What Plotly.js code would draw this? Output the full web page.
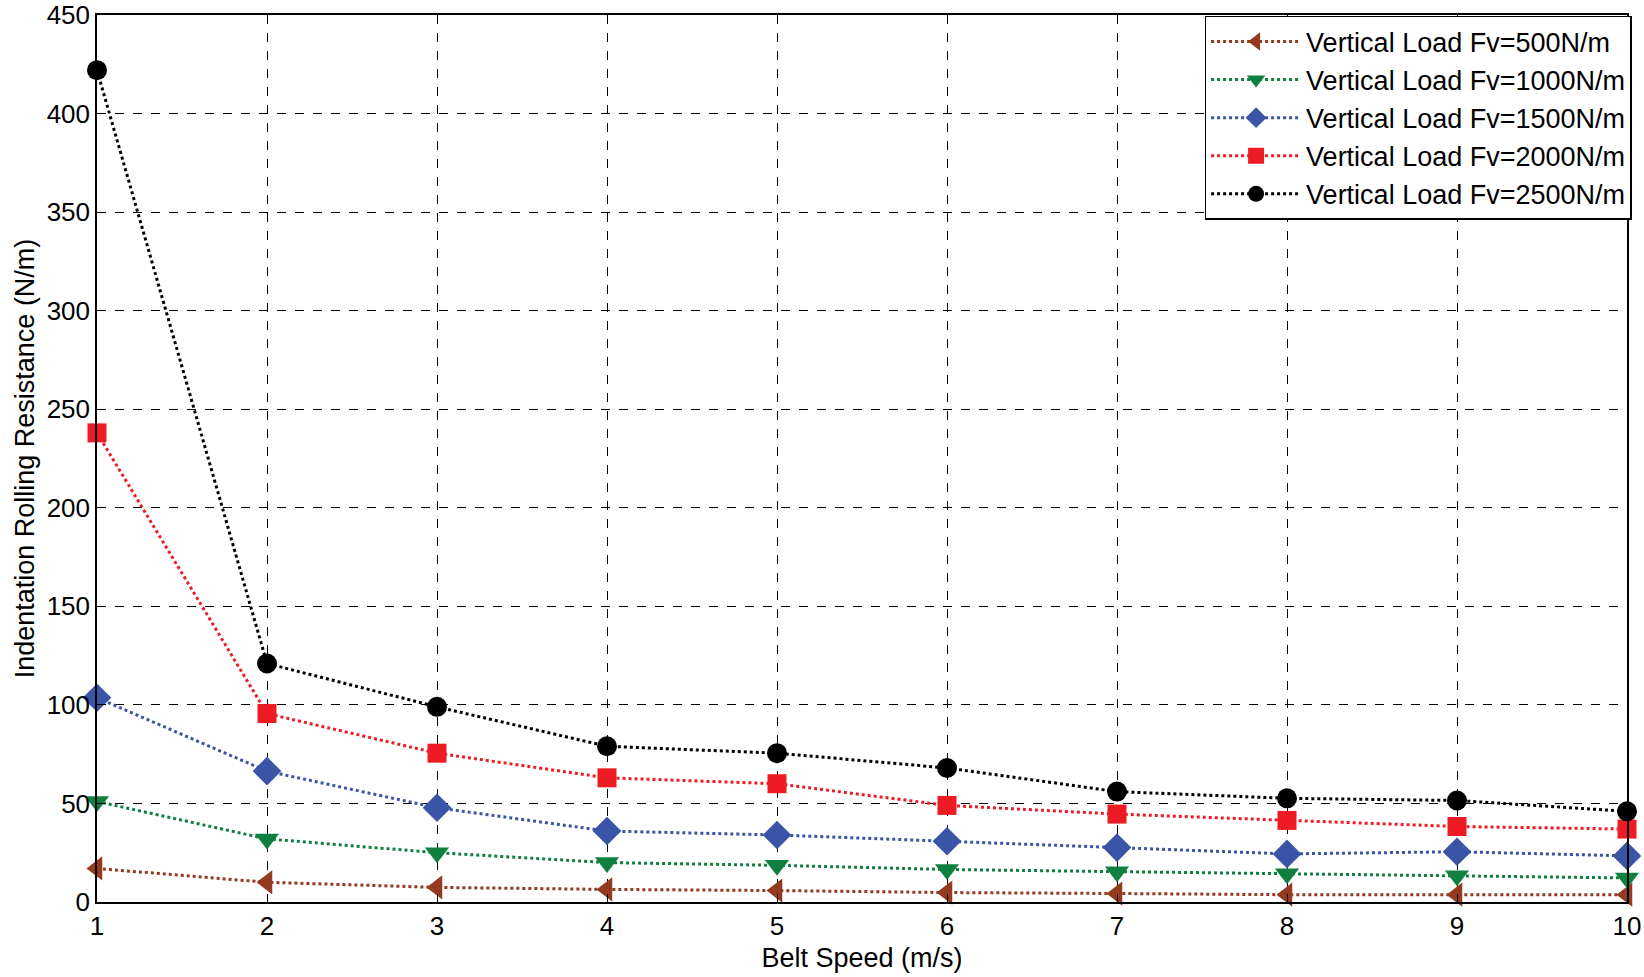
<!DOCTYPE html>
<html>
<head>
<meta charset="utf-8">
<script src="https://cdn.plot.ly/plotly-3.0.1.min.js"></script>
<style>
  html, body { margin: 0; padding: 0; background: #fff; }
  #chart { width: 1644px; height: 977px; }
</style>
</head>
<body>
<div id="chart"></div>
<script>
// belt speed (m/s)
var speed = [1, 2, 3, 4, 5, 6, 7, 8, 9, 10];

// indentation rolling resistance (N/m)
var fv500  = [17, 10, 7.4, 6.4, 5.8, 4.8, 4.3, 3.7, 3.7, 3.7];
var fv1000 = [51, 32, 25, 20, 18.6, 16.5, 15.4, 14.3, 13.3, 12.2];
var fv1500 = [103.6, 66.4, 47.8, 36, 34, 30.8, 27.6, 24.4, 25.5, 23.4];
var fv2000 = [238, 95.6, 75.5, 63, 60, 49, 44.6, 41.4, 38.3, 37];
var fv2500 = [422, 121, 99, 79, 75.5, 68, 56, 52.6, 51.5, 46];

var names = [
    'Vertical Load Fv=500N/m',
    'Vertical Load Fv=1000N/m',
    'Vertical Load Fv=1500N/m',
    'Vertical Load Fv=2000N/m',
    'Vertical Load Fv=2500N/m'
];

function make_trace(y, name, color, symbol, size) {
    return {
        x: speed,
        y: y,
        name: name,
        mode: 'lines+markers',
        cliponaxis: false,
        line: {color: color, width: 3, dash: 'dot'},
        marker: {color: color, symbol: symbol, size: size}
    };
}

var traces = [
    make_trace(fv500,  names[0], '#933a1f', 'triangle-left', 21),
    make_trace(fv1000, names[1], '#0f8040', 'triangle-down', 21),
    make_trace(fv1500, names[2], '#3a55a5', 'diamond', 22),
    make_trace(fv2000, names[3], '#ed1c24', 'square', 19),
    make_trace(fv2500, names[4], '#000000', 'circle', 20)
];

var axis_common = {
    showline: true,
    mirror: true,
    linecolor: '#000',
    linewidth: 1.5,
    showgrid: true,
    gridcolor: '#000',
    griddash: 'dash',
    gridwidth: 1,
    zeroline: false,
    ticks: 'inside',
    ticklen: 8,
    tickcolor: '#000',
    ticklabeloverflow: 'allow',
    tickfont: {family: 'Arial, Liberation Sans', size: 26, color: '#000'}
};

var layout = {
    width: 1644,
    height: 977,
    paper_bgcolor: '#fff',
    plot_bgcolor: '#fff',
    margin: {l: 97, r: 17, t: 15, b: 75},
    font: {family: 'Arial, Liberation Sans', color: '#000'},
    xaxis: Object.assign({}, axis_common, {
        range: [1, 10],
        dtick: 1,
        tick0: 1,
        title: {text: 'Belt Speed (m/s)', font: {size: 27}, standoff: 8}
    }),
    yaxis: Object.assign({}, axis_common, {
        range: [0, 450],
        dtick: 50,
        title: {text: 'Indentation Rolling Resistance (N/m)', font: {size: 27}, standoff: 4}
    }),
    legend: {
        x: 1.003,
        y: 0.999,
        xanchor: 'right',
        yanchor: 'top',
        bgcolor: '#fff',
        bordercolor: '#000',
        borderwidth: 1.5,
        itemwidth: 90,
        font: {family: 'Arial, Liberation Sans', size: 27, color: '#000'},
        tracegroupgap: 0
    },
    showlegend: true
};

Plotly.newPlot('chart', traces, layout, {displayModeBar: false});
</script>
</body>
</html>
